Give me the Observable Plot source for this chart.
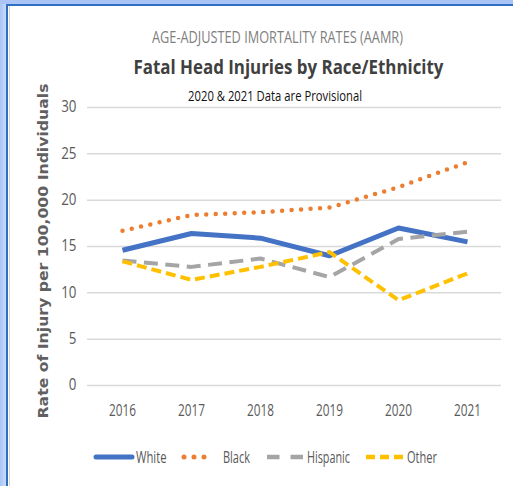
<!DOCTYPE html>
<html>
<head>
<meta charset="utf-8">
<script src="https://cdn.jsdelivr.net/npm/d3@7"></script>
<script src="https://cdn.jsdelivr.net/npm/@observablehq/plot@0.6"></script>
<style>
  html, body { margin: 0; padding: 0; background: #fff; }
  #wrap { position: relative; width: 513px; height: 486px; overflow: hidden; background: #fff;
          font-family: "Open Sans", sans-serif; }
  .abs { position: absolute; white-space: nowrap; }
  #leftband { left: 0; top: 0; width: 6px; height: 486px; background: linear-gradient(to right, #a9c4f5, #c9dbfb); }
  #leftline { left: 6px; top: 4px; width: 2px; height: 482px; background: #2e6fc4; }
  #leftgray { left: 9px; top: 6px; width: 1px; height: 480px; background: #d6d6d6; }
  #topband { left: 0; top: 0; width: 513px; height: 4px; background: #a9c4f5; }
  #topline { left: 6px; top: 4px; width: 507px; height: 2px; background: #2e6fc4; }
  .fit { line-height: 1; transform-origin: 50% 50%; }
  #t1 { font-size: 16.5px; color: #7f7f7f; }
  #t2 { font-size: 20px; font-weight: bold; color: #404040; }
  #t3 { font-size: 14px; color: #111; }
  #ylab { font-family: "DejaVu Sans", sans-serif; font-size: 14px; font-weight: bold; color: #606060; line-height: 1; }
</style>
</head>
<body>
<div id="wrap">
  <div class="abs" id="leftband"></div>
  <div class="abs" id="topband"></div>
  <div class="abs" id="leftline"></div>
  <div class="abs" id="topline"></div>
  <div class="abs" id="leftgray"></div>
  <div id="chart" class="abs" style="left:0;top:0;"></div>
  <div class="abs fit" id="t1">AGE-ADJUSTED IMORTALITY RATES (AAMR)</div>
  <div class="abs fit" id="t2">Fatal Head Injuries by Race/Ethnicity</div>
  <div class="abs fit" id="t3">2020 &amp; 2021 Data are Provisional</div>
  <div class="abs" id="ylab">Rate of Injury per 100,000 Individuals</div>
  <div id="legend" class="abs" style="left:0;top:440px;"></div>
</div>
<script>
const years = ["2016", "2017", "2018", "2019", "2020", "2021"];
const white = [14.6, 16.4, 15.9, 14.0, 17.0, 15.5];
const black = [16.7, 18.4, 18.7, 19.2, 21.4, 24.1];
const hispanic = [13.5, 12.8, 13.7, 11.7, 15.8, 16.6];
const other = [13.4, 11.4, 12.8, 14.4, 9.2, 12.1];
const yTicks = [0, 5, 10, 15, 20, 25, 30];

const seriesNames = ["White", "Black", "Hispanic", "Other"];
const seriesValues = [white, black, hispanic, other];
const styles = {
  White:    {stroke: "#4472C4", strokeWidth: 5, dash: null, cap: "butt"},
  Black:    {stroke: "#ED7D31", strokeWidth: 4.5, dash: "0 9.5", cap: "round"},
  Hispanic: {stroke: "#A5A5A5", strokeWidth: 4, dash: "14 7.5", cap: "butt"},
  Other:    {stroke: "#FFC000", strokeWidth: 4, dash: "10 5", cap: "butt"}
};

const rows = [];
seriesNames.forEach((s, i) => years.forEach((y, j) => rows.push({series: s, year: y, value: seriesValues[i][j]})));

const lineMarks = seriesNames.map(s => Plot.line(rows.filter(d => d.series === s), {
  x: "year", y: "value",
  stroke: styles[s].stroke, strokeWidth: styles[s].strokeWidth,
  strokeDasharray: styles[s].dash, strokeLinecap: styles[s].cap, strokeLinejoin: "round"
}));

const chart = Plot.plot({
  width: 513, height: 486,
  marginTop: 107, marginBottom: 101, marginLeft: 87, marginRight: 12,
  style: {background: "transparent", fontFamily: "'Open Sans', sans-serif", fontSize: "15px", color: "#595959"},
  x: {type: "point", domain: years, padding: 0.5, label: null},
  y: {domain: [0, 30], label: null},
  marks: [
    Plot.ruleY(yTicks, {stroke: "#d9d9d9", strokeWidth: 1.5}),
    Plot.axisY(yTicks, {tickSize: 0, tickPadding: 11, label: null, fill: "#595959", fontSize: 15.5}),
    Plot.axisX(years, {tickSize: 0, tickPadding: 19, label: null, fill: "#595959", fontSize: 15.5}),
    ...lineMarks
  ]
});
document.getElementById("chart").appendChild(chart);

// condense tick labels (Calibri-like narrow look)
function condense(sel, factor) {
  chart.querySelectorAll(sel).forEach(t => {
    const L = t.getComputedTextLength();
    t.setAttribute("textLength", L * factor);
    t.setAttribute("lengthAdjust", "spacingAndGlyphs");
  });
}
condense('g[aria-label="y-axis tick label"] text', 0.86);
condense('g[aria-label="x-axis tick label"] text', 0.76);

// titles: fit to width and centre
function fit(id, targetW, cx, top) {
  const el = document.getElementById(id);
  const w = el.getBoundingClientRect().width;
  el.style.left = (cx - w / 2) + "px";
  el.style.top = top + "px";
  el.style.transform = `scaleX(${targetW / w})`;
}
fit("t1", 251, 277.5, 28.6);
fit("t2", 310, 288, 57.2);
fit("t3", 174, 275, 88.6);

// rotated y label
(function () {
  const el = document.getElementById("ylab");
  const r = el.getBoundingClientRect();
  const s = 335 / r.width;
  el.style.left = (43 - r.width / 2) + "px";
  el.style.top = (250.5 - r.height / 2) + "px";
  el.style.transform = `rotate(-90deg) scale(${s}, 1)`;
})();

// legend
const ns = "http://www.w3.org/2000/svg";
const lg = document.createElementNS(ns, "svg");
lg.setAttribute("width", 513); lg.setAttribute("height", 34);
const cy = 17;
const legendItems = [
  {s: "White", x1: 96, x2: 132, cap: "round", dash: null, w: 5, tx: 136, tw: 30.5},
  {s: "Black", x1: 184, x2: 214, cap: "round", dash: "0 10", w: 5, tx: 223, tw: 27},
  {s: "Hispanic", x1: 267, x2: 303, cap: "butt", dash: "12.5 11", w: 4.5, tx: 307, tw: 43},
  {s: "Other", x1: 366, x2: 403, cap: "butt", dash: "9 5", w: 4.5, tx: 407, tw: 30}
];
legendItems.forEach(it => {
  const ln = document.createElementNS(ns, "line");
  ln.setAttribute("x1", it.x1); ln.setAttribute("x2", it.x2);
  ln.setAttribute("y1", cy); ln.setAttribute("y2", cy);
  ln.setAttribute("stroke", styles[it.s].stroke);
  ln.setAttribute("stroke-width", it.w);
  ln.setAttribute("stroke-linecap", it.cap);
  if (it.dash) ln.setAttribute("stroke-dasharray", it.dash);
  lg.appendChild(ln);
  const t = document.createElementNS(ns, "text");
  t.setAttribute("x", it.tx); t.setAttribute("y", cy);
  t.setAttribute("dy", "0.36em");
  t.setAttribute("font-family", "Open Sans, sans-serif");
  t.setAttribute("font-size", 15.5);
  t.setAttribute("fill", "#595959");
  t.setAttribute("textLength", it.tw);
  t.setAttribute("lengthAdjust", "spacingAndGlyphs");
  t.textContent = it.s;
  lg.appendChild(t);
});
document.getElementById("legend").appendChild(lg);
</script>
</body>
</html>
